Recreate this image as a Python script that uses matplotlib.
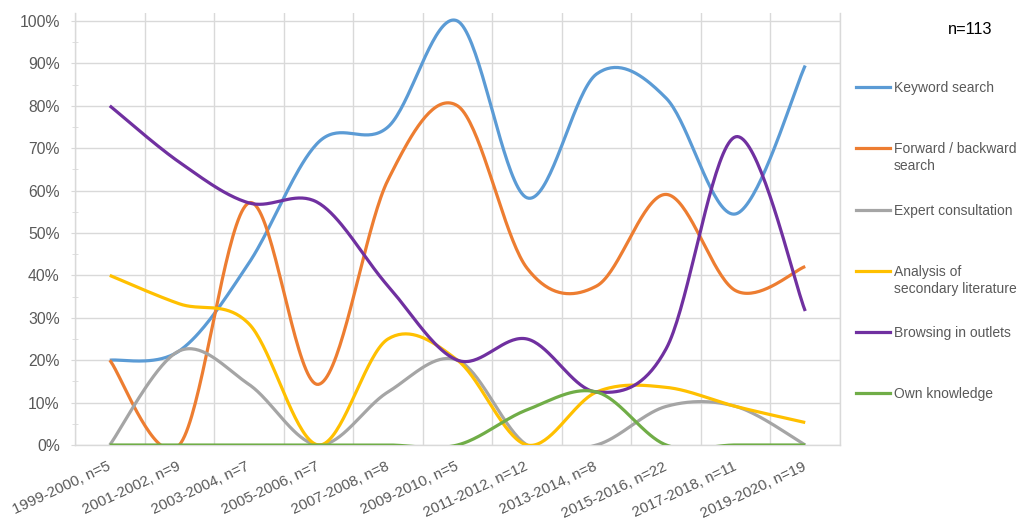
import numpy as np
import matplotlib
matplotlib.use("Agg")
import matplotlib.pyplot as plt
from matplotlib.lines import Line2D
from matplotlib.ticker import PercentFormatter, MultipleLocator

plt.rcParams['font.family'] = ['Liberation Sans', 'DejaVu Sans']

periods = ["1999-2000, n=5", "2001-2002, n=9", "2003-2004, n=7", "2005-2006, n=7",
           "2007-2008, n=8", "2009-2010, n=5", "2011-2012, n=12", "2013-2014, n=8",
           "2015-2016, n=22", "2017-2018, n=11", "2019-2020, n=19"]

keyword_search = [0.200, 0.222, 0.429, 0.714, 0.750, 1.000, 0.583, 0.875, 0.818, 0.545, 0.895]
forward_backward = [0.200, 0.000, 0.571, 0.143, 0.625, 0.800, 0.417, 0.375, 0.591, 0.364, 0.421]
expert_consultation = [0.000, 0.222, 0.143, 0.000, 0.125, 0.200, 0.000, 0.000, 0.091, 0.091, 0.000]
secondary_literature = [0.400, 0.333, 0.286, 0.000, 0.250, 0.200, 0.000, 0.125, 0.136, 0.091, 0.053]
browsing_outlets = [0.800, 0.667, 0.571, 0.571, 0.375, 0.200, 0.250, 0.125, 0.227, 0.727, 0.316]
own_knowledge = [0.000, 0.000, 0.000, 0.000, 0.000, 0.000, 0.083, 0.125, 0.000, 0.000, 0.000]

series = [
    ("Keyword search", keyword_search, "#5B9BD5"),
    ("Forward / backward\nsearch", forward_backward, "#ED7D31"),
    ("Expert consultation", expert_consultation, "#A5A5A5"),
    ("Analysis of\nsecondary literature", secondary_literature, "#FFC000"),
    ("Browsing in outlets", browsing_outlets, "#7030A0"),
    ("Own knowledge", own_knowledge, "#70AD47"),
]


def smooth(xs, ys, steps=40):
    """Cubic Bezier smoothing through every point (Catmull-Rom control points)."""
    P = np.column_stack([xs, ys]).astype(float)
    n = len(P)
    out = []
    for i in range(n - 1):
        p0 = P[max(i - 1, 0)]
        p1 = P[i]
        p2 = P[i + 1]
        p3 = P[min(i + 2, n - 1)]
        c1 = p1 + (p2 - p0) / 6.0
        c2 = p2 - (p3 - p1) / 6.0
        t = np.linspace(0, 1, steps)[:, None]
        seg = ((1 - t) ** 3) * p1 + 3 * ((1 - t) ** 2) * t * c1 + 3 * (1 - t) * t ** 2 * c2 + t ** 3 * p2
        out.append(seg if i == 0 else seg[1:])
    pts = np.vstack(out)
    return pts[:, 0], pts[:, 1]


W, H = 1021, 523
fig = plt.figure(figsize=(W / 100, H / 100), dpi=100)
ax = fig.add_axes([75 / W, 1 - 445 / H, (840 - 75) / W, (445 - 13) / H])

x = np.arange(len(periods))
for label, vals, color in series:
    sx, sy = smooth(x, vals)
    ax.plot(sx, sy, color=color, lw=2.3, solid_capstyle='butt', zorder=3)

ax.set_xlim(-0.5, len(periods) - 0.5)
ax.set_ylim(0, 1.0 + 8 / 424)
ax.set_yticks(np.arange(0, 1.01, 0.1))
ax.yaxis.set_minor_locator(MultipleLocator(0.05))
ax.yaxis.set_major_formatter(PercentFormatter(1.0, decimals=0))
ax.set_xticks(x)
ax.set_xticks(np.arange(-0.5, len(periods), 1.0), minor=True)
ax.set_xticklabels(periods, rotation=25, ha='right', va='center', rotation_mode='anchor')

grid_c = "#D9D9D9"
ax.grid(axis='y', which='major', color=grid_c, lw=1.0, zorder=0)
ax.grid(axis='x', which='minor', color=grid_c, lw=1.0, zorder=0)
ax.set_axisbelow(True)
for side in ('top', 'right'):
    ax.spines[side].set_visible(False)
for side in ('left', 'bottom'):
    ax.spines[side].set_color(grid_c)
    ax.spines[side].set_linewidth(1.0)

ax.tick_params(axis='y', which='major', length=3, color=grid_c, labelsize=11.3,
               labelcolor="#595959", pad=8)
ax.tick_params(axis='y', which='minor', length=4, color=grid_c, direction='inout')
ax.tick_params(axis='x', which='both', length=0, labelsize=10.8, labelcolor="#595959", pad=15)

# right border of the plot area
fig.add_artist(Line2D([840 / W, 840 / W], [1 - 13 / H, 1 - 445 / H], color=grid_c, lw=1.0))

# legend drawn as lines and labels in figure space
legend_y = [87, 148, 210, 271, 332, 393]
for (label, vals, color), yy in zip(series, legend_y):
    fy = 1 - yy / H
    fig.add_artist(Line2D([856 / W, 890 / W], [fy, fy], color=color, lw=2.3))
    fig.text(894 / W, 1 - (yy - 6) / H, label, fontsize=10, color="#595959",
             ha='left', va='top', linespacing=1.25)

fig.text(970 / W, 1 - 30 / H, "n=113", fontsize=11.8, color="#000000", ha='center', va='center')

fig.savefig("out.png", dpi=100)
